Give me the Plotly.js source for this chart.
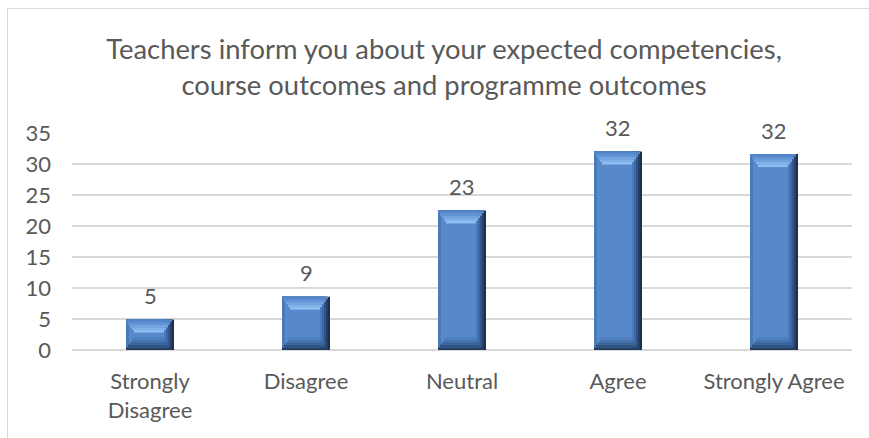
<!DOCTYPE html>
<html>
<head>
<meta charset="utf-8">
<script src="https://cdn.plot.ly/plotly-3.0.1.min.js"></script>
<style>
  html, body { margin: 0; padding: 0; background: #ffffff; }
  #wrap { position: relative; width: 869px; height: 438px; overflow: hidden; }
  #frame { position: absolute; left: 7px; top: 8px; width: 900px; height: 460px; border: 1px solid #d9d9d9; box-sizing: border-box; }
  #chart { position: absolute; left: 0; top: 0; width: 869px; height: 438px; }
</style>
</head>
<body>
<div id="wrap">
  <div id="frame"></div>
  <div id="chart"></div>
</div>
<script>
// ---- data ----
const chartTitle = 'Teachers inform you about your expected competencies,<br>course outcomes and programme outcomes';
const categories = ['Strongly<br>Disagree', 'Disagree', 'Neutral', 'Agree', 'Strongly Agree'];
const values = [4.9, 8.6, 22.5, 32.0, 31.6];
const yTicks = [0, 5, 10, 15, 20, 25, 30, 35];

// ---- style ----
const FONT = 'Lato, "Open Sans", sans-serif';
const TEXT = '#595959';
const catPx = 156;           // px per category
const unitPx = 6.2;          // px per y unit
const bev = 13 / unitPx;     // bevel height in y units
const nb = 5;                // bevel bands
const bh = bev / nb;

function layer(color, wPx, offPx, baseFn, hFn) {
  return {
    type: 'bar', x: categories,
    y: hFn ? values.map(hFn) : values,
    base: baseFn ? values.map(baseFn) : undefined,
    width: wPx / catPx, offset: offPx / catPx,
    marker: { color: color, line: { width: 0 } },
    hoverinfo: 'skip', showlegend: false
  };
}

const traces = [
  layer('#1b3150', 48, -24),
  layer('#263f66', 46, -24),
  layer('#31548a', 44, -24),
  layer('#3d67a6', 42, -24),
  layer('#4a7aba', 40, -24),
  layer('#5688ca', 35, -21)
];
// top bevel (lighter trapezoid, lightest at its lower edge)
const topCols = ['#5385c8', '#6294d4', '#72a3df', '#81b1e8', '#8ebdf0'];
const topW = [46, 42, 38, 34, 30];
topCols.forEach((c, k) => {
  traces.push(layer(c, topW[k], -topW[k] / 2 - 1, v => v - (k + 1) * bh, () => bh));
});
// bottom bevel (darker trapezoid, darkest at the bottom)
const botCols = ['#243e64', '#2f5281', '#3a6498', '#4573af', '#4f80c0'];
botCols.forEach((c, k) => {
  traces.push(layer(c, topW[k], -topW[k] / 2 - 1, () => k * bh, () => bh));
});

const annotations = values.map((v, i) => ({
  x: categories[i], y: v, xref: 'x', yref: 'y',
  text: String(Math.round(v)), showarrow: false,
  yanchor: 'middle', yshift: 24,
  font: { family: FONT, size: 22, color: TEXT }
}));

const layout = {
  width: 869, height: 438,
  margin: { l: 72, r: 17, t: 133, b: 88 },
  paper_bgcolor: 'rgba(0,0,0,0)', plot_bgcolor: 'rgba(0,0,0,0)',
  barmode: 'overlay',
  title: {
    text: chartTitle,
    font: { family: FONT, size: 27.4, color: TEXT },
    x: 444 / 869, xanchor: 'center', xref: 'container',
    y: 1 - 59 / 438, yanchor: 'top', yref: 'container'
  },
  xaxis: {
    type: 'category', showgrid: false, zeroline: false, showline: false,
    ticks: '', ticklabelstandoff: 16,
    tickfont: { family: FONT, size: 22, color: TEXT }
  },
  yaxis: {
    range: [0, 35], tickvals: yTicks, ticktext: yTicks.map(String),
    showgrid: true, gridcolor: '#d9d9d9', gridwidth: 1.5,
    zeroline: true, zerolinecolor: '#d9d9d9', zerolinewidth: 1.5,
    showline: false, ticks: '', ticklabelstandoff: 20,
    tickfont: { family: FONT, size: 22, color: TEXT }
  },
  annotations: annotations,
  font: { family: FONT, color: TEXT }
};

Plotly.newPlot('chart', traces, layout, { staticPlot: true, displayModeBar: false });
</script>
</body>
</html>
